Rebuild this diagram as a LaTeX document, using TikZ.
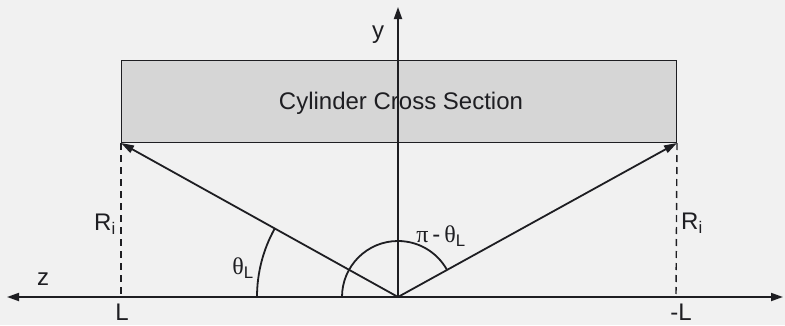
\documentclass[tikz,border=0pt]{standalone}
\usepackage{fontspec}
\setmainfont{Liberation Sans}
\newfontfamily\grk{Liberation Serif}
\usetikzlibrary{arrows.meta}
\definecolor{bgc}{RGB}{241,241,241}
\definecolor{boxc}{RGB}{214,214,214}
\definecolor{inkc}{RGB}{30,30,34}
\begin{document}
\begin{tikzpicture}[x=1pt,y=1pt,
  ink/.style={draw=inkc,line width=1.8pt},
  axis/.style={ink,-{Triangle[length=12pt,width=8pt]}},
  ray/.style={ink,-{Triangle[length=13pt,width=8pt]}},
  dashline/.style={draw=inkc,line width=1.4pt,dash pattern=on 7pt off 5pt},
  lbl/.style={font=\fontsize{24}{28}\selectfont,text=inkc,inner sep=0pt}]
\fill[bgc] (0,0) rectangle (785,325);
\useasboundingbox (0,0) rectangle (785,325);
% box
\node[draw=inkc,line width=1pt,fill=boxc,minimum width=555pt,minimum height=82pt,inner sep=0pt,anchor=south west] (box) at (121,182) {};
\node[lbl] (title) at (401,222) {Cylinder Cross Section};
% axes
\coordinate (O) at (398,28);
\coordinate (zl) at (7,28);
\coordinate (zr) at (783,28);
\coordinate (ytop) at (398,318);
\coordinate (Lp) at (121,28);
\coordinate (mLp) at (676,28);
\draw[axis] (O) -- (zl);
\draw[axis] (O) -- (zr);
\draw[axis] (O) -- (ytop);
% rays
\draw[ray] (O) -- (box.south west);
\draw[ray] (O) -- (box.south east);
% dashed
\draw[dashline] (box.south west) -- (Lp);
\draw[dashline] (box.south east) -- (mLp);
% arcs
\draw[ink] (257,28) arc[start angle=180,end angle=150.93,radius=141];
\draw[ink] (342,28) arc[start angle=180,end angle=29.0,radius=56];
% labels
\node[lbl] (ylab) at (378,290) {y};
\node[lbl] (zlab) at (43,46) {z};
\node[lbl] (Llab) at (122,13) {L};
\node[lbl] (mLlab) at (681,13) {-L};
\node[lbl] (Rl) at (105,101) {R\textsubscript{i}};
\node[lbl] (Rr) at (692,102) {R\textsubscript{i}};
\node[lbl] (th) at (243,57) {{\grk θ}\textsubscript{L}};
\node[lbl] (pth) at (441,89) {{\grk π}\,-\,{\grk θ}\textsubscript{L}};
\end{tikzpicture}
\end{document}
